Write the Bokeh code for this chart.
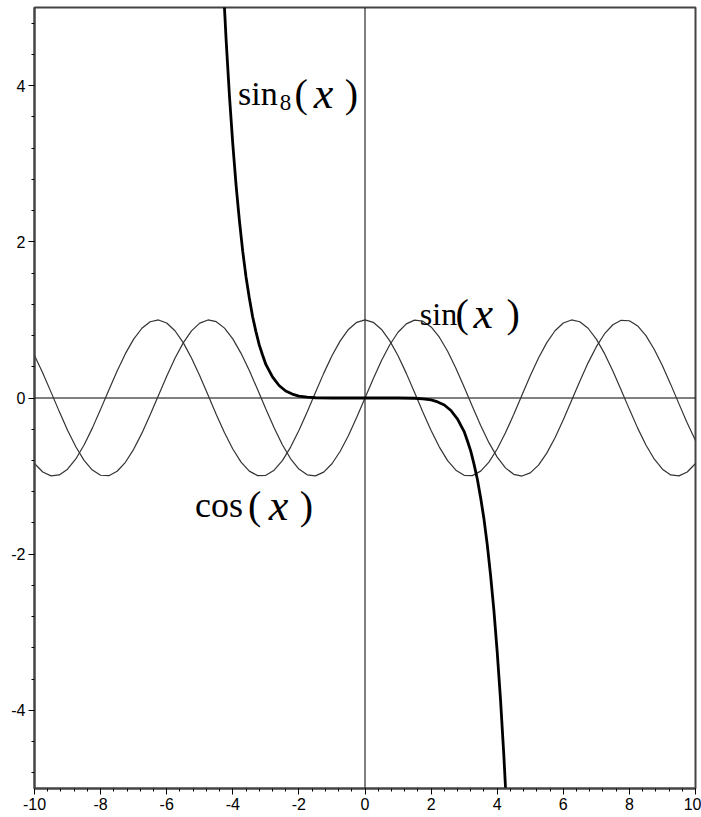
from bokeh.plotting import figure
from bokeh.models import Range1d, FixedTicker, Span
from bokeh.core.properties import value
from bokeh.embed import file_html
from bokeh.resources import INLINE

# ---------------- data ----------------
x_wave = [i * 0.25 for i in range(-40, 41)]

sin_y = [0.5440, 0.3195, 0.0752, -0.1743, -0.4121, -0.6247, -0.7985, -0.9226, -0.9894, -0.9946,
         -0.9380, -0.8231, -0.6570, -0.4500, -0.2151, 0.0332, 0.2794, 0.5083, 0.7055, 0.8589,
         0.9589, 0.9993, 0.9775, 0.8950, 0.7568, 0.5716, 0.3508, 0.1082, -0.1411, -0.3817,
         -0.5985, -0.7781, -0.9093, -0.9840, -0.9975, -0.9490, -0.8415, -0.6816, -0.4794, -0.2474,
         0.0,
         0.2474, 0.4794, 0.6816, 0.8415, 0.9490, 0.9975, 0.9840, 0.9093, 0.7781, 0.5985,
         0.3817, 0.1411, -0.1082, -0.3508, -0.5716, -0.7568, -0.8950, -0.9775, -0.9993, -0.9589,
         -0.8589, -0.7055, -0.5083, -0.2794, -0.0332, 0.2151, 0.4500, 0.6570, 0.8231, 0.9380,
         0.9946, 0.9894, 0.9226, 0.7985, 0.6247, 0.4121, 0.1743, -0.0752, -0.3195, -0.5440]

cos_y = [-0.8391, -0.9477, -0.9972, -0.9847, -0.9111, -0.7807, -0.6020, -0.3857, -0.1455, 0.1037,
         0.3466, 0.5679, 0.7539, 0.8930, 0.9766, 0.9994, 0.9602, 0.8612, 0.7087, 0.5121,
         0.2837, 0.0376, -0.2108, -0.4461, -0.6536, -0.8206, -0.9365, -0.9941, -0.9900, -0.9243,
         -0.8011, -0.6282, -0.4161, -0.1782, 0.0707, 0.3153, 0.5403, 0.7317, 0.8776, 0.9689,
         1.0,
         0.9689, 0.8776, 0.7317, 0.5403, 0.3153, 0.0707, -0.1782, -0.4161, -0.6282, -0.8011,
         -0.9243, -0.9900, -0.9941, -0.9365, -0.8206, -0.6536, -0.4461, -0.2108, 0.0376, 0.2837,
         0.5121, 0.7087, 0.8612, 0.9602, 0.9994, 0.9766, 0.8930, 0.7539, 0.5679, 0.3466,
         0.1037, -0.1455, -0.3857, -0.6020, -0.7807, -0.9111, -0.9847, -0.9972, -0.9477, -0.8391]

x_sin8 = [-4.3, -4.2, -4.1, -4.0, -3.9, -3.8, -3.7, -3.6, -3.5, -3.4, -3.3, -3.2, -3.1, -3.0,
          -2.8, -2.6, -2.4, -2.2, -2.0, -1.75, -1.5, -1.0, -0.5, 0.0,
          0.5, 1.0, 1.5, 1.75, 2.0, 2.2, 2.4, 2.6, 2.8,
          3.0, 3.1, 3.2, 3.3, 3.4, 3.5, 3.6, 3.7, 3.8, 3.9, 4.0, 4.1, 4.2, 4.3]
y_sin8 = [5.39, 4.57, 3.86, 3.25, 2.72, 2.27, 1.88, 1.55, 1.28, 1.04, 0.85, 0.68, 0.55, 0.43,
          0.27, 0.16, 0.09, 0.05, 0.025, 0.010, 0.003, 0.0002, 0.0, 0.0,
          0.0, -0.0002, -0.003, -0.010, -0.025, -0.05, -0.09, -0.16, -0.27,
          -0.43, -0.55, -0.68, -0.85, -1.04, -1.28, -1.55, -1.88, -2.27, -2.72, -3.25, -3.86, -4.57, -5.39]

x_major = [-10, -8, -6, -4, -2, 0, 2, 4, 6, 8, 10]
y_major = [-4, -2, 0, 2, 4]
x_tick_labels = ["-10", "-8", "-6", "-4", "-2", "0", "2", "4", "6", "8", "10"]
y_tick_labels = ["-4", "-2", "0", "2", "4"]

# ---------------- figure ----------------
p = figure(width=701, height=817, output_backend="svg", toolbar_location=None,
           x_range=Range1d(-10, 10), y_range=Range1d(-5, 5),
           min_border_left=34, min_border_right=6, min_border_top=7, min_border_bottom=29)
p.background_fill_color = "white"
p.border_fill_color = "white"
p.outline_line_color = "#444444"
p.outline_line_width = 2
p.xgrid.visible = False
p.ygrid.visible = False

p.xaxis.ticker = FixedTicker(ticks=x_major, minor_ticks=[-10 + 0.4 * i for i in range(51)])
p.yaxis.ticker = FixedTicker(ticks=y_major, minor_ticks=[-4.8 + 0.4 * i for i in range(25)])
p.xaxis.major_label_overrides = {t: s for t, s in zip(x_major, x_tick_labels)}
p.yaxis.major_label_overrides = {t: s for t, s in zip(y_major, y_tick_labels)}

tick_font = "'Liberation Sans Narrow', 'Liberation Sans', sans-serif"
for ax in (p.xaxis[0], p.yaxis[0]):
    ax.axis_line_color = "#444444"
    ax.axis_line_width = 2
    ax.major_tick_line_color = "black"
    ax.minor_tick_line_color = "black"
    ax.major_tick_in = 0
    ax.major_tick_out = 6
    ax.minor_tick_in = 0
    ax.minor_tick_out = 3
    ax.major_label_text_font = tick_font
    ax.major_label_text_font_size = "16px"
    ax.major_label_text_color = "black"
p.xaxis.major_label_standoff = 3
p.yaxis.major_label_standoff = 3

# axes through the origin
p.add_layout(Span(location=0, dimension="width", line_color="black", line_width=1, level="underlay"))
p.add_layout(Span(location=0, dimension="height", line_color="black", line_width=1, level="underlay"))

# curves
p.line(x_wave, sin_y, line_color="#333333", line_width=1.2)
p.line(x_wave, cos_y, line_color="#333333", line_width=1.2)
p.line(x_sin8, y_sin8, line_color="black", line_width=2.8)

# labels
serif = "'Liberation Serif', 'DejaVu Serif', serif"


def lab(x, y, t, size, style="normal"):
    p.text(x=[x], y=[y], text=[t], text_font=value(serif), text_font_size=value(size),
           text_font_style=style, text_color="black",
           text_align="left", text_baseline="alphabetic")


# sin_8(x)
lab(-3.843, 3.895, "sin", "34px")
lab(-2.58, 3.788, "8", "23px")
lab(-2.13, 3.895, "(", "40px")
lab(-1.55, 3.895, "x", "44px", "italic")
lab(-0.615, 3.895, ")", "40px")
# sin(x)
lab(1.658, 1.078, "sin", "32px")
lab(2.74, 1.078, "(", "40px")
lab(3.28, 1.078, "x", "44px", "italic")
lab(4.28, 1.078, ")", "40px")
# cos(x)
lab(-5.144, -1.376, "cos", "36px")
lab(-3.54, -1.376, "(", "40px")
lab(-2.91, -1.376, "x", "44px", "italic")
lab(-1.975, -1.376, ")", "40px")

open("out.html", "w").write(file_html(p, INLINE))
